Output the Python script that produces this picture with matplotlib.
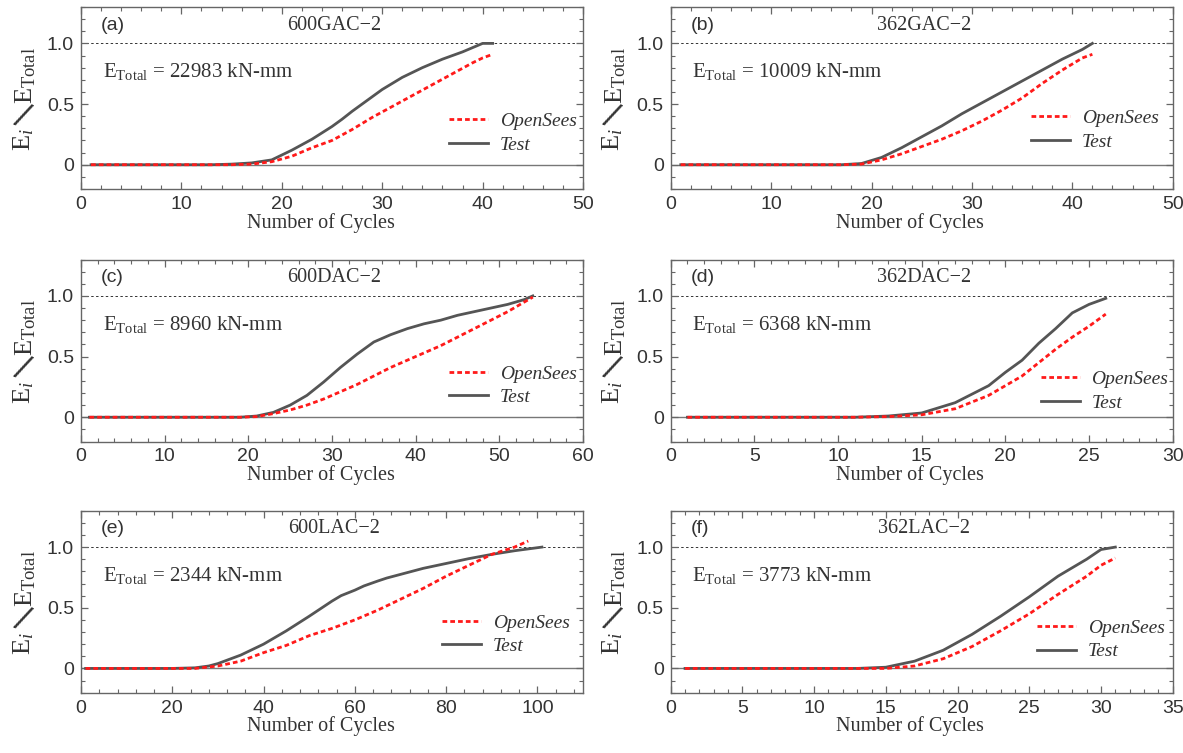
import matplotlib
matplotlib.use("Agg")
import matplotlib.pyplot as plt
from matplotlib.ticker import MultipleLocator

plt.rcParams["mathtext.fontset"] = "custom"
plt.rcParams["mathtext.rm"] = "Liberation Serif"
plt.rcParams["mathtext.it"] = "Liberation Serif:italic"
plt.rcParams["mathtext.bf"] = "Liberation Serif:bold"

SERIF = "Liberation Serif"
SANS = "Liberation Sans"

# ---- data ----
names = ["600GAC\u22122", "362GAC\u22122", "600DAC\u22122", "362DAC\u22122", "600LAC\u22122", "362LAC\u22122"]
tags = ["(a)", "(b)", "(c)", "(d)", "(e)", "(f)"]
e_total = [22983, 10009, 8960, 6368, 2344, 3773]

a_cyc_test = [1, 13, 15, 17, 19, 21, 23, 25, 26, 27, 28, 30, 32, 34, 36, 38, 40, 41]
a_test = [0, 0, 0.005, 0.015, 0.04, 0.12, 0.21, 0.315, 0.375, 0.44, 0.5, 0.62, 0.72, 0.8, 0.87, 0.93, 1.0, 1.0]
a_cyc_os = [1, 15, 17, 19, 21, 23, 25, 27, 29, 31, 33, 35, 37, 39, 40, 41]
a_os = [0, 0, 0.005, 0.025, 0.07, 0.14, 0.2, 0.29, 0.39, 0.48, 0.57, 0.66, 0.75, 0.84, 0.88, 0.91]

b_cyc = [1, 17, 19, 21, 23, 25, 27, 29, 31, 33, 35, 37, 39, 41, 42]
b_test = [0, 0, 0.01, 0.06, 0.14, 0.23, 0.32, 0.42, 0.51, 0.6, 0.69, 0.78, 0.87, 0.95, 1.0]
b_os = [0, 0, 0.005, 0.04, 0.09, 0.15, 0.21, 0.28, 0.36, 0.45, 0.55, 0.67, 0.78, 0.88, 0.91]

c_cyc = [1, 19, 21, 23, 25, 27, 29, 31, 33, 35, 37, 39, 41, 43, 45, 47, 49, 51, 53, 54]
c_test = [0, 0, 0.01, 0.04, 0.1, 0.18, 0.29, 0.41, 0.52, 0.62, 0.68, 0.73, 0.77, 0.8, 0.84, 0.87, 0.9, 0.93, 0.97, 1.0]
c_os = [0, 0, 0.005, 0.03, 0.06, 0.1, 0.15, 0.21, 0.27, 0.34, 0.41, 0.47, 0.53, 0.59, 0.66, 0.73, 0.8, 0.87, 0.95, 0.99]

d_cyc = [1, 11, 13, 15, 17, 19, 20, 21, 22, 23, 24, 25, 26]
d_test = [0, 0, 0.01, 0.035, 0.12, 0.26, 0.37, 0.47, 0.61, 0.73, 0.86, 0.93, 0.98]
d_os = [0, 0, 0.005, 0.02, 0.07, 0.18, 0.26, 0.34, 0.45, 0.56, 0.66, 0.75, 0.85]

e_cyc_test = [1, 20, 25, 28, 30, 35, 40, 45, 50, 53, 55, 57, 60, 62, 65, 67, 70, 72, 75, 80, 85, 90, 95, 101]
e_test = [0, 0, 0.005, 0.02, 0.04, 0.11, 0.2, 0.31, 0.43, 0.505, 0.555, 0.6, 0.645, 0.68, 0.72, 0.745, 0.775,
          0.795, 0.825, 0.865, 0.905, 0.94, 0.97, 1.0]
e_cyc_os = [1, 25, 30, 35, 40, 45, 50, 55, 60, 65, 70, 75, 80, 85, 90, 95, 98]
e_os = [0, 0, 0.02, 0.06, 0.13, 0.19, 0.27, 0.33, 0.4, 0.48, 0.57, 0.66, 0.76, 0.85, 0.94, 1.0, 1.05]

f_cyc = [1, 13, 15, 17, 19, 21, 23, 25, 27, 29, 30, 31]
f_test = [0, 0, 0.01, 0.06, 0.15, 0.28, 0.43, 0.59, 0.76, 0.9, 0.98, 1.0]
f_os = [0, 0, 0, 0.02, 0.08, 0.18, 0.31, 0.45, 0.61, 0.76, 0.85, 0.91]

series = [
    (a_cyc_test, a_test, a_cyc_os, a_os),
    (b_cyc, b_test, b_cyc, b_os),
    (c_cyc, c_test, c_cyc, c_os),
    (d_cyc, d_test, d_cyc, d_os),
    (e_cyc_test, e_test, e_cyc_os, e_os),
    (f_cyc, f_test, f_cyc, f_os),
]
xmax = [50, 50, 60, 30, 110, 35]
xmajor = [10, 10, 10, 5, 20, 5]
xminor = [2, 2, 2, 1, 4, 1]
# legend: left x (axes frac), OpenSees / Test y (data)
leg_x = [0.733, 0.718, 0.733, 0.737, 0.72, 0.73]
leg_y = [(0.36, 0.16), (0.39, 0.18), (0.36, 0.16), (0.32, 0.11), (0.38, 0.18), (0.34, 0.13)]

# ---- layout ----
fig = plt.figure(figsize=(11.83, 7.53), dpi=100)
W, H = 1183, 753
col_left = [81, 670.7]
ax_w = 502
row_bot = [189, 441.5, 692.7]
ax_h = 182

SPINE = "#666666"
TXT = "#333333"

for k in range(6):
    r, c = divmod(k, 2)
    ax = fig.add_axes([col_left[c] / W, 1 - row_bot[r] / H, ax_w / W, ax_h / H])
    xt, yt, xo, yo = series[k]

    ax.axhline(0, color="#777777", lw=1.0, zorder=1)
    ax.axhline(1.0, color="#333333", lw=0.7, ls=(0, (2.5, 2.5)), zorder=1)
    h_test, = ax.plot(xt, yt, color="#555555", lw=2.0, zorder=2, label="Test")
    h_os, = ax.plot(xo, yo, color="#ff1a1a", lw=2.0, ls=(0, (1.7, 1.1)), zorder=3, label="OpenSees")

    ax.set_xlim(0, xmax[k])
    ax.set_ylim(-0.2, 1.3)
    ax.xaxis.set_major_locator(MultipleLocator(xmajor[k]))
    ax.xaxis.set_minor_locator(MultipleLocator(xminor[k]))
    ax.set_yticks([0, 0.5, 1.0])
    ax.set_yticklabels(["0", "0.5", "1.0"])
    ax.yaxis.set_minor_locator(MultipleLocator(0.1))
    ax.tick_params(which="both", direction="in", top=True, right=True, colors=SPINE,
                   labelcolor=TXT, labelsize=14, pad=5)
    ax.tick_params(which="major", length=5, width=0.9)
    ax.tick_params(which="minor", length=3, width=0.8)
    for lab in ax.get_xticklabels() + ax.get_yticklabels():
        lab.set_fontfamily(SANS)
    for s in ax.spines.values():
        s.set_color(SPINE)
        s.set_linewidth(1.0)

    ax.set_xlabel("Number of Cycles", fontfamily=SERIF, fontsize=14.5, color=TXT)
    ax.xaxis.set_label_coords(0.477, -0.13)

    # y label built from pieces so the slash can be large
    ax.text(-0.1155, 0.27, r"$\mathrm{E}_{\mathit{i}}$", transform=ax.transAxes, rotation=90,
            fontsize=19, color=TXT, ha="center", va="center")
    ax.text(-0.12, 0.395, "/", transform=ax.transAxes, rotation=-24, fontfamily=SERIF,
            fontweight="bold", fontsize=28, color=TXT, ha="center", va="center")
    ax.text(-0.11, 0.625, r"$\mathrm{E}_{\mathrm{Total}}$", transform=ax.transAxes, rotation=90,
            fontsize=19, color=TXT, ha="center", va="center")

    ax.text(0.04, 0.9, tags[k], transform=ax.transAxes, fontfamily=SANS, fontsize=14,
            color=TXT, ha="left", va="center")
    ax.text(0.505, 0.9, names[k], transform=ax.transAxes, fontfamily=SERIF, fontsize=14.5,
            color=TXT, ha="center", va="center")
    ax.text(0.043, 0.645, r"$\mathrm{E}_{\mathrm{Total}}$" + f" = {e_total[k]} kN-mm",
            transform=ax.transAxes, fontfamily=SERIF, fontsize=15, color=TXT,
            ha="left", va="center")

    ym = (sum(leg_y[k]) / 2 + 0.2) / 1.5
    leg = ax.legend([h_os, h_test], ["OpenSees", "Test"], loc="center left",
                    bbox_to_anchor=(leg_x[k], ym), frameon=False, borderpad=0,
                    borderaxespad=0, handlelength=2.0, handletextpad=0.6,
                    labelspacing=0.3, prop={"family": SERIF, "style": "italic", "size": 14})
    for t in leg.get_texts():
        t.set_color(TXT)

fig.savefig("out.png", dpi=100)
